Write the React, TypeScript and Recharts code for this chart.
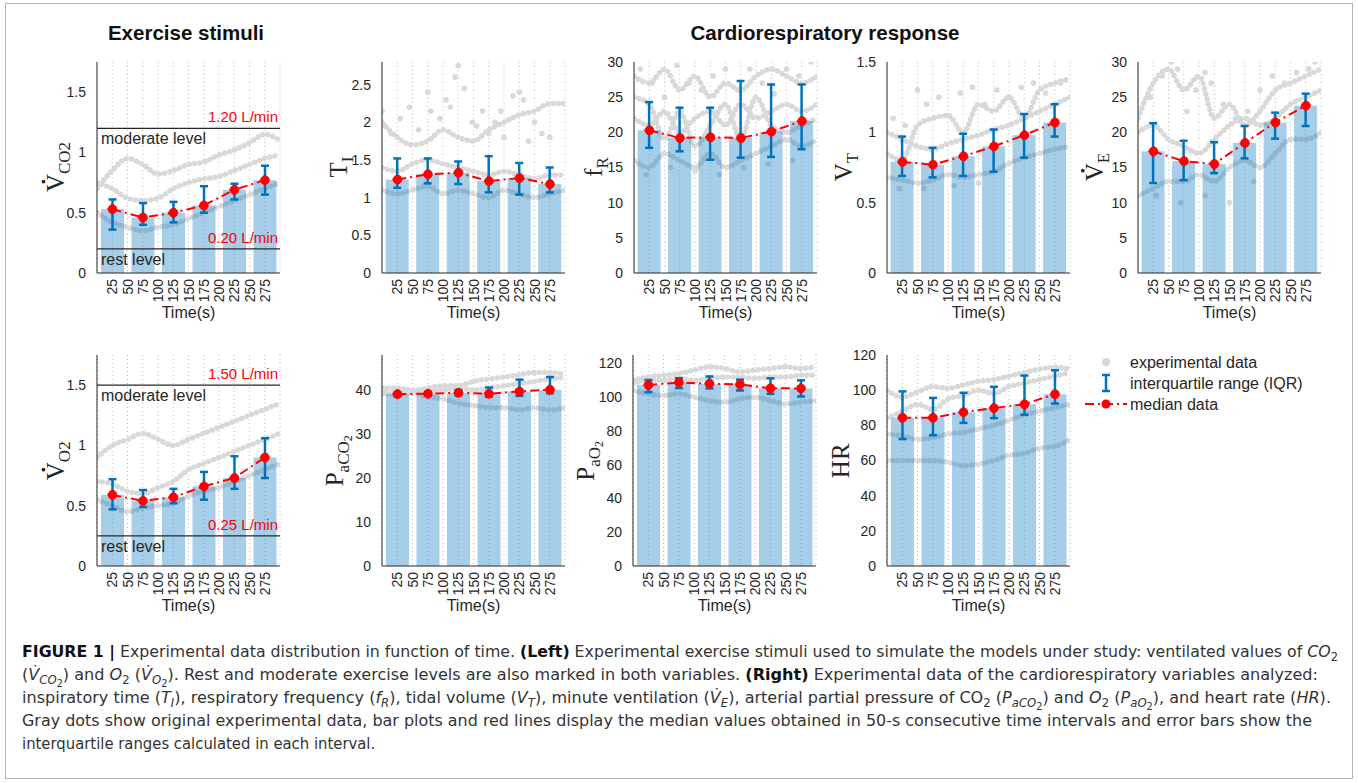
import React from 'react';
import {
  ComposedChart,
  Bar,
  Line,
  Scatter,
  XAxis,
  YAxis,
  CartesianGrid,
  ErrorBar,
  ReferenceLine,
  Label,
} from 'recharts';

// ---------------- data ----------------
const TIMES = [25, 75, 125, 175, 225, 275];
const TRAIL_TIMES = [0, 25, 50, 75, 100, 125, 150, 175, 200, 225, 250, 275, 300];
const X_TICKS = [25, 50, 75, 100, 125, 150, 175, 200, 225, 250, 275];

// V'CO2
const vco2Median = [0.53, 0.46, 0.5, 0.56, 0.69, 0.77];
const vco2Q1 = [0.36, 0.4, 0.42, 0.5, 0.61, 0.65];
const vco2Q3 = [0.61, 0.58, 0.59, 0.72, 0.74, 0.89];
const vco2TrailA = [0.7, 0.85, 0.95, 0.9, 0.82, 0.85, 0.9, 0.92, 0.98, 1.02, 1.08, 1.15, 1.1];
const vco2TrailB = [0.75, 0.7, 0.62, 0.6, 0.62, 0.7, 0.75, 0.78, 0.8, 0.85, 0.9, 0.95, 0.98];
const vco2TrailC = [0.5, 0.42, 0.38, 0.35, 0.38, 0.4, 0.45, 0.5, 0.55, 0.6, 0.65, 0.7, 0.75];

// TI
const tiMedian = [1.24, 1.31, 1.33, 1.22, 1.26, 1.18];
const tiQ1 = [1.13, 1.19, 1.18, 1.07, 1.04, 1.07];
const tiQ3 = [1.52, 1.52, 1.48, 1.55, 1.46, 1.4];
const tiTrailA = [1.4, 1.35, 1.45, 1.5, 1.45, 1.4, 1.35, 1.3, 1.35, 1.3, 1.25, 1.3, 1.3];
const tiTrailB = [1.1, 1.05, 1.1, 1.15, 1.05, 1.1, 1.05, 1.0, 1.1, 1.05, 1.0, 1.05, 1.1];
const tiTrailC = [2.0, 1.8, 1.7, 1.75, 1.9, 1.8, 1.75, 1.9, 2.0, 2.1, 2.15, 2.25, 2.25];
const tiDots = [
  [0, 2.15], [5, 1.95], [15, 1.85], [30, 2.05], [45, 2.2], [60, 1.9], [75, 2.4], [80, 2.15],
  [95, 2.05], [105, 2.3], [112, 2.2], [120, 2.6], [125, 2.75], [135, 2.45], [148, 2.0],
  [155, 1.95], [165, 2.15], [175, 1.85], [185, 2.0], [195, 2.15], [200, 1.8], [215, 2.35],
  [225, 2.4], [232, 2.3], [240, 1.75], [250, 2.0], [262, 1.85], [275, 1.8],
];

// fR
const frMedian = [20.3, 19.2, 19.3, 19.2, 20.1, 21.6];
const frQ1 = [17.8, 17.3, 16.1, 16.4, 16.5, 17.6];
const frQ3 = [24.3, 23.5, 23.5, 27.3, 26.8, 26.8];
const frTrailA = [28, 27, 29, 26, 28, 25, 27, 26, 28, 29, 28, 27, 28];
const frTrailB = [22, 21, 23, 20, 22, 23, 21, 24, 22, 23, 24, 23, 24];
const frTrailC = [16, 15, 17, 16, 15, 17, 15, 16, 17, 18, 19, 18, 19];
const frTrailD = [25, 24, 19, 23, 18, 21, 24, 19, 25, 21, 20, 21, 22];
const frDots = [
  [10, 29], [30, 27], [50, 25], [70, 29.5], [90, 27], [110, 26], [130, 28], [150, 29],
  [170, 26], [190, 29], [210, 27], [230, 25.5], [250, 29], [270, 28], [290, 30],
  [20, 14], [60, 15], [100, 14.5], [140, 14], [180, 15], [220, 15.5], [260, 16],
];

// VT
const vtMedian = [0.79, 0.77, 0.83, 0.9, 0.98, 1.07];
const vtQ1 = [0.69, 0.68, 0.69, 0.72, 0.82, 0.97];
const vtQ3 = [0.97, 0.89, 0.99, 1.02, 1.13, 1.2];
const vtTrailA = [1.0, 0.95, 0.9, 0.88, 0.92, 0.95, 0.98, 1.02, 1.05, 1.1, 1.15, 1.2, 1.25];
const vtTrailB = [0.68, 0.66, 0.64, 0.66, 0.7, 0.68, 0.7, 0.72, 0.78, 0.82, 0.85, 0.88, 0.9];
const vtTrailC = [0.85, 0.8, 1.05, 1.1, 1.12, 1.0, 1.2, 1.15, 1.25, 1.1, 1.3, 1.35, 1.38];
const vtDots = [
  [10, 1.1], [30, 1.05], [50, 1.3], [65, 1.2], [85, 1.25], [100, 1.12], [120, 1.28],
  [140, 1.32], [160, 1.2], [180, 1.3], [200, 1.25], [220, 1.32], [240, 1.35], [260, 1.28],
  [285, 1.35], [20, 0.6], [60, 0.6], [110, 0.62], [150, 0.64],
];

// V'E
const veMedian = [17.3, 15.9, 15.5, 18.5, 21.4, 23.8];
const veQ1 = [12.8, 13.2, 14.2, 16.3, 19.1, 20.9];
const veQ3 = [21.3, 18.8, 18.6, 20.9, 22.8, 25.5];
const veTrailA = [22, 27, 29, 26, 28, 22, 24, 21, 23, 26, 27, 28, 29];
const veTrailB = [20, 21, 19, 18, 17, 19, 21, 22, 21, 22, 24, 25, 26];
const veTrailC = [11, 12, 13, 13, 14, 13, 15, 16, 15, 17, 19, 19, 20];
const veDots = [
  [20, 25], [40, 28], [55, 30], [65, 29], [80, 23], [95, 26], [110, 28.5], [120, 27],
  [140, 24], [160, 22], [180, 23], [200, 26], [220, 28], [240, 27], [260, 28.5], [280, 29],
  [290, 30], [30, 11], [70, 10], [110, 11], [150, 10], [190, 13],
];

// V'O2
const vo2Median = [0.59, 0.54, 0.57, 0.66, 0.73, 0.9];
const vo2Q1 = [0.47, 0.49, 0.52, 0.55, 0.64, 0.73];
const vo2Q3 = [0.72, 0.63, 0.64, 0.78, 0.91, 1.06];
const vo2TrailA = [0.9, 1.0, 1.05, 1.1, 1.05, 1.0, 1.05, 1.1, 1.15, 1.2, 1.25, 1.3, 1.35];
const vo2TrailB = [0.7, 0.68, 0.62, 0.6, 0.65, 0.7, 0.8, 0.85, 0.9, 0.95, 1.0, 1.05, 1.1];
const vo2TrailC = [0.55, 0.5, 0.45, 0.48, 0.5, 0.52, 0.58, 0.62, 0.65, 0.7, 0.75, 0.8, 0.85];

// PaCO2
const paco2Median = [39.1, 39.2, 39.4, 39.2, 39.7, 40.1];
const paco2Q1 = [38.6, 38.8, 38.8, 38.5, 38.7, 39.3];
const paco2Q3 = [39.5, 39.6, 40.0, 40.6, 42.4, 43.0];
const paco2TrailA = [40.5, 40.5, 40, 40.5, 41, 41, 42, 42.5, 43, 43.5, 44, 44, 43.5];
const paco2TrailB = [40, 39, 39.5, 38.5, 38, 37, 36.5, 36, 36, 35.5, 36, 35.5, 36];
const paco2TrailC = [39, 39.5, 39.5, 40, 40, 40.5, 40, 40.5, 41, 41.5, 42, 42.5, 43];

// PaO2
const pao2Median = [107.2, 108.7, 108.0, 107.6, 105.3, 105.2];
const pao2Q1 = [103.0, 105.4, 105.2, 104.0, 102.0, 100.4];
const pao2Q3 = [110.2, 111.3, 112.3, 110.4, 111.2, 110.0];
const pao2TrailA = [110, 112, 113, 114, 116, 118, 117, 115, 116, 117, 118, 117, 118];
const pao2TrailB = [108, 110, 110, 111, 110, 111, 112, 112, 111, 112, 112, 113, 113];
const pao2TrailC = [104, 102, 101, 102, 100, 98, 97, 99, 100, 98, 96, 97, 98];

// HR
const hrMedian = [84.3, 84.3, 87.5, 89.8, 92.0, 97.7];
const hrQ1 = [72.2, 74.4, 81.4, 84.1, 86.0, 92.4];
const hrQ3 = [99.3, 95.6, 98.5, 101.9, 108.3, 111.3];
const hrTrailA = [60, 60, 60, 60, 59, 57, 58, 60, 63, 64, 67, 68, 72];
const hrTrailB = [75, 74, 72, 73, 75, 76, 78, 80, 83, 86, 88, 90, 92];
const hrTrailC = [100, 96, 99, 102, 101, 103, 105, 106, 108, 110, 112, 113, 112];
const hrTrailD = [84, 88, 92, 89, 95, 97, 100, 98, 102, 104, 106, 108, 110];

// ---------------- styles ----------------
const SANS = '"Liberation Sans", Arial, Helvetica, sans-serif';
const NARROW = '"Liberation Sans Narrow", "DejaVu Sans Condensed", "Liberation Sans", Arial, sans-serif';
const SERIF = '"Liberation Serif", "Times New Roman", serif';
const AX = '#262626';
const BLUE = '#0072BD';
const RED = '#ff0000';
const DOTGRAY = '#d9d9d9';

const ROW_TOP = [61.5, 355.3];
const PLOT_H = 211;
const PLOT_W = 183;
const Y_W = 60;
const M_TOP = 8;
const M_RIGHT = 8;
const M_BOTTOM = 8;
const X_H = 45;
const BAR_W = 23;

type RefSpec = { y: number; red: string; black: string };
type LabSpec = { main: string; dot?: boolean; sub?: string; subsub?: string; off: number };

type PanelCfg = {
  id: string;
  row: number;
  axisX: number;
  median: number[];
  q1: number[];
  q3: number[];
  trails: number[][];
  dots?: number[][];
  domain: [number, number];
  ticks: number[];
  refs?: RefSpec[];
  label: LabSpec;
};

const PANELS: PanelCfg[] = [
  {
    id: 'vco2', row: 0, axisX: 97, median: vco2Median, q1: vco2Q1, q3: vco2Q3,
    trails: [vco2TrailA, vco2TrailB, vco2TrailC], domain: [0, 1.75], ticks: [0, 0.5, 1, 1.5],
    refs: [
      { y: 1.2, red: '1.20 L/min', black: 'moderate level' },
      { y: 0.2, red: '0.20 L/min', black: 'rest level' },
    ],
    label: { main: 'V', dot: true, sub: 'CO2', off: 33 },
  },
  {
    id: 'ti', row: 0, axisX: 381.6, median: tiMedian, q1: tiQ1, q3: tiQ3,
    trails: [tiTrailA, tiTrailB, tiTrailC], dots: tiDots, domain: [0, 2.8], ticks: [0, 0.5, 1, 1.5, 2, 2.5],
    label: { main: 'T', sub: 'I', off: 35 },
  },
  {
    id: 'fr', row: 0, axisX: 634, median: frMedian, q1: frQ1, q3: frQ3,
    trails: [frTrailA, frTrailB, frTrailC, frTrailD], dots: frDots, domain: [0, 30], ticks: [0, 5, 10, 15, 20, 25, 30],
    label: { main: 'f', sub: 'R', off: 32 },
  },
  {
    id: 'vt', row: 0, axisX: 886.7, median: vtMedian, q1: vtQ1, q3: vtQ3,
    trails: [vtTrailA, vtTrailB, vtTrailC], dots: vtDots, domain: [0, 1.5], ticks: [0, 0.5, 1, 1.5],
    label: { main: 'V', sub: 'T', off: 35 },
  },
  {
    id: 've', row: 0, axisX: 1138.3, median: veMedian, q1: veQ1, q3: veQ3,
    trails: [veTrailA, veTrailB, veTrailC], dots: veDots, domain: [0, 30], ticks: [0, 5, 10, 15, 20, 25, 30],
    label: { main: 'V', dot: true, sub: 'E', off: 35 },
  },
  {
    id: 'vo2', row: 1, axisX: 97, median: vo2Median, q1: vo2Q1, q3: vo2Q3,
    trails: [vo2TrailA, vo2TrailB, vo2TrailC], domain: [0, 1.75], ticks: [0, 0.5, 1, 1.5],
    refs: [
      { y: 1.5, red: '1.50 L/min', black: 'moderate level' },
      { y: 0.25, red: '0.25 L/min', black: 'rest level' },
    ],
    label: { main: 'V', dot: true, sub: 'O2', off: 33 },
  },
  {
    id: 'paco2', row: 1, axisX: 381.7, median: paco2Median, q1: paco2Q1, q3: paco2Q3,
    trails: [paco2TrailA, paco2TrailB, paco2TrailC], domain: [0, 48], ticks: [0, 10, 20, 30, 40],
    label: { main: 'P', sub: 'aCO', subsub: '2', off: 39 },
  },
  {
    id: 'pao2', row: 1, axisX: 633.3, median: pao2Median, q1: pao2Q1, q3: pao2Q3,
    trails: [pao2TrailA, pao2TrailB, pao2TrailC], domain: [0, 125], ticks: [0, 20, 40, 60, 80, 100, 120],
    label: { main: 'P', sub: 'aO', subsub: '2', off: 39 },
  },
  {
    id: 'hr', row: 1, axisX: 886.7, median: hrMedian, q1: hrQ1, q3: hrQ3,
    trails: [hrTrailA, hrTrailB, hrTrailC, hrTrailD], domain: [0, 120], ticks: [0, 20, 40, 60, 80, 100, 120],
    label: { main: 'HR', off: 38 },
  },
];

// ---------------- components ----------------
const XTick = (props: any) => {
  const { x, y, payload } = props;
  return (
    <text
      x={x}
      y={y}
      transform={`rotate(-90 ${x} ${y})`}
      textAnchor="end"
      dominantBaseline="central"
      fontSize={14}
      fill={AX}
      fontFamily={SANS}
    >
      {payload.value}
    </text>
  );
};

const RefLabel = (props: any) => {
  const vb = props.viewBox || {};
  const { x = 0, y = 0, width = 0 } = vb;
  return (
    <g>
      <text x={x + width - 2} y={y - 6} textAnchor="end" fill={RED} fontSize={15} fontFamily={SANS}>
        {props.red}
      </text>
      <text x={x + 4} y={y + 16} textAnchor="start" fill={AX} fontSize={16} fontFamily={SANS}>
        {props.black}
      </text>
    </g>
  );
};

const BarShape = (p: any) => {
  if (p.height == null || isNaN(p.x)) return null;
  const cx = p.x + p.width / 2;
  return (
    <rect x={cx - BAR_W / 2} y={p.y} width={BAR_W} height={Math.max(0, p.height)} fill={BLUE} fillOpacity={0.35} />
  );
};

const dotShape = (p: any) => <circle cx={p.cx} cy={p.cy} r={2.8} fill={DOTGRAY} />;

function Panel({ cfg }: { cfg: PanelCfg }) {
  const data = TIMES.map((t, i) => ({
    t,
    median: cfg.median[i],
    err: [cfg.median[i] - cfg.q1[i], cfg.q3[i] - cfg.median[i]],
  }));
  const left = cfg.axisX - Y_W;
  const top = ROW_TOP[cfg.row] - M_TOP;
  return (
    <div style={{ position: 'absolute', left, top }}>
      <ComposedChart
        width={Y_W + PLOT_W + M_RIGHT}
        height={M_TOP + PLOT_H + X_H + M_BOTTOM}
        data={data}
        margin={{ top: M_TOP, right: M_RIGHT, bottom: M_BOTTOM, left: 0 }}
      >
        <CartesianGrid horizontal={false} strokeDasharray="1 3" stroke="#bdbdbd" />
        <XAxis
          type="number"
          dataKey="t"
          domain={[0, 300]}
          ticks={X_TICKS}
          interval={0}
          allowDataOverflow
          height={X_H}
          tickLine={false}
          tickSize={0}
          tickMargin={6}
          tick={<XTick />}
          axisLine={{ stroke: AX, strokeWidth: 1 }}
        >
          <Label
            value="Time(s)"
            position="insideBottom"
            offset={0}
            style={{ fontSize: 16, fill: AX, fontFamily: SANS }}
          />
        </XAxis>
        <YAxis
          type="number"
          domain={cfg.domain}
          ticks={cfg.ticks}
          interval={0}
          allowDataOverflow
          width={Y_W}
          tickLine={false}
          tickMargin={5}
          tick={{ fontSize: 14, fill: AX, fontFamily: SANS }}
          axisLine={{ stroke: AX, strokeWidth: 1 }}
        />
        {cfg.trails.map((tr, k) => (
          <Line
            key={'tr' + k}
            data={TRAIL_TIMES.map((t, i) => ({ t, v: tr[i] }))}
            dataKey="v"
            type="monotone"
            stroke={DOTGRAY}
            strokeWidth={5.5}
            strokeLinecap="round"
            strokeDasharray="0.1 5.2"
            dot={false}
            activeDot={false}
            isAnimationActive={false}
            legendType="none"
            {...({ zIndex: 250 } as any)}
          />
        ))}
        {cfg.dots && (
          <Scatter
            data={cfg.dots.map(([t, v]) => ({ t, v }))}
            dataKey="v"
            shape={dotShape}
            isAnimationActive={false}
            legendType="none"
            {...({ zIndex: 250 } as any)}
          />
        )}
        <Bar dataKey="median" barSize={BAR_W} shape={<BarShape />} fill={BLUE} fillOpacity={0.35} isAnimationActive={false}>
          <ErrorBar dataKey="err" width={4} stroke={BLUE} strokeWidth={2.5} direction="y" />
        </Bar>
        {(cfg.refs || []).map((r, k) => (
          <ReferenceLine
            key={'ref' + k}
            y={r.y}
            stroke={AX}
            strokeWidth={1.3}
            label={<RefLabel red={r.red} black={r.black} />}
          />
        ))}
        <Line
          dataKey="median"
          stroke={RED}
          strokeWidth={2}
          strokeDasharray="9 4 2 4"
          dot={{ r: 4.5, fill: RED, stroke: RED, strokeWidth: 1 }}
          activeDot={false}
          isAnimationActive={false}
        />
      </ComposedChart>
    </div>
  );
}

// serif glyph width table (em)
const SERIF_W: Record<string, number> = {
  V: 0.722, T: 0.611, f: 0.333, P: 0.556, H: 0.722, R: 0.667, C: 0.667, O: 0.722,
  a: 0.444, E: 0.611, I: 0.333, '2': 0.5,
};
const strW = (s: string, fs: number) => s.split('').reduce((a, c) => a + (SERIF_W[c] || 0.5) * fs, 0);

function YLab({ cfg }: { cfg: PanelCfg }) {
  const L = cfg.label;
  const fs = 25;
  const sfs = 17;
  const ssfs = 12;
  const total = strW(L.main, fs) + strW(L.sub || '', sfs) + strW(L.subsub || '', ssfs);
  const start = -total / 2;
  const x = cfg.axisX - L.off;
  const y = ROW_TOP[cfg.row] + PLOT_H / 2;
  return (
    <g transform={`translate(${x},${y}) rotate(-90)`}>
      <text x={start} y={0} fontFamily={SERIF} fontSize={fs} fill={AX}>
        {L.main}
        {L.sub && (
          <tspan fontSize={sfs} dy={6}>
            {L.sub}
          </tspan>
        )}
        {L.subsub && (
          <tspan fontSize={ssfs} dy={3}>
            {L.subsub}
          </tspan>
        )}
      </text>
      {L.dot && <circle cx={start + (0.722 * fs) / 2 + 1.5} cy={-fs * 0.66 - 4} r={1.9} fill={AX} />}
    </g>
  );
}

type Seg = [string, string?];
const CAPTION: { segs: Seg[]; w: number }[] = [
  {
    w: 1316,
    segs: [
      ['FIGURE 1 |', 'b'],
      [' Experimental data distribution in function of time. '],
      ['(Left)', 'b'],
      [' Experimental exercise stimuli used to simulate the models under study: ventilated values of '],
      ['CO', 'i'],
      ['2', '1'],
    ],
  },
  {
    w: 1296,
    segs: [
      ['('],
      ['V\u0307', 'i'],
      ['CO', 'i1'],
      ['2', '2'],
      [') and '],
      ['O', 'i'],
      ['2', '1'],
      [' ('],
      ['V\u0307', 'i'],
      ['O', 'i1'],
      ['2', '2'],
      ['). Rest and moderate exercise levels are also marked in both variables. '],
      ['(Right)', 'b'],
      [' Experimental data of the cardiorespiratory variables analyzed:'],
    ],
  },
  {
    w: 1309,
    segs: [
      ['inspiratory time ('],
      ['T', 'i'],
      ['I', 'i1'],
      ['), respiratory frequency ('],
      ['f', 'i'],
      ['R', 'i1'],
      ['), tidal volume ('],
      ['V', 'i'],
      ['T', 'i1'],
      ['), minute ventilation ('],
      ['V\u0307', 'i'],
      ['E', 'i1'],
      ['), arterial partial pressure of CO'],
      ['2', '1'],
      [' ('],
      ['P', 'i'],
      ['aCO', 'i1'],
      ['2', '2'],
      [') and '],
      ['O', 'i'],
      ['2', '1'],
      [' ('],
      ['P', 'i'],
      ['aO', 'i1'],
      ['2', '2'],
      ['), and heart rate ('],
      ['HR', 'i'],
      [').'],
    ],
  },
  {
    w: 1290,
    segs: [
      ['Gray dots show original experimental data, bar plots and red lines display the median values obtained in 50-s consecutive time intervals and error bars show the'],
    ],
  },
  { w: 0, segs: [['interquartile ranges calculated in each interval.']] },
];
const CAP_Y = [657, 680, 703, 726, 749];

function CapLine({ segs, y, w }: { segs: Seg[]; y: number; w: number }) {
  const shift = [0, 4, 7];
  const fsz = [16.5, 12, 10];
  let level = 0;
  const fit = w > 0 ? { textLength: w, lengthAdjust: 'spacingAndGlyphs' } : {};
  return (
    <text
      x={22}
      y={y}
      {...(fit as any)}
      fontFamily={NARROW}
      fontSize={16.5}
      fill="#333"
      style={{ whiteSpace: 'pre', fontStretch: 'condensed' }}
    >
      {segs.map(([t, f = ''], k) => {
        const lv = f.includes('2') ? 2 : f.includes('1') ? 1 : 0;
        const dy = shift[lv] - shift[level];
        level = lv;
        return (
          <tspan
            key={k}
            dy={dy}
            fontSize={fsz[lv]}
            fontWeight={f.includes('b') ? 'bold' : 'normal'}
            fontStyle={f.includes('i') ? 'italic' : 'normal'}
            fill={f.includes('b') ? '#111' : '#333'}
          >
            {t}
          </tspan>
        );
      })}
    </text>
  );
}

export default function App() {
  return (
    <div
      style={{
        position: 'absolute',
        left: 0,
        top: 0,
        width: 1358,
        height: 783,
        background: '#fff',
        fontFamily: SANS,
        overflow: 'hidden',
      }}
    >
      {PANELS.map((p) => (
        <Panel key={p.id} cfg={p} />
      ))}
      <svg
        width={1358}
        height={783}
        style={{ position: 'absolute', left: 0, top: 0, pointerEvents: 'none' }}
      >
        <rect x={5.5} y={3.5} width={1347} height={775} fill="none" stroke="#b5b5b5" strokeWidth={1} />
        <text x={186} y={40} textAnchor="middle" fontFamily={SANS} fontWeight="bold" fontSize={20.5} fill="#111">
          Exercise stimuli
        </text>
        <text x={825} y={40} textAnchor="middle" fontFamily={SANS} fontWeight="bold" fontSize={20.5} fill="#111">
          Cardiorespiratory response
        </text>
        {PANELS.map((p) => (
          <YLab key={'yl' + p.id} cfg={p} />
        ))}
        {/* legend */}
        <g fontFamily={SANS} fontSize={16} fill={AX}>
          <circle cx={1106} cy={362} r={4} fill={DOTGRAY} />
          <line x1={1106} y1={375} x2={1106} y2={391} stroke={BLUE} strokeWidth={2.5} />
          <line x1={1102} y1={375} x2={1110} y2={375} stroke={BLUE} strokeWidth={2.5} />
          <line x1={1102} y1={391} x2={1110} y2={391} stroke={BLUE} strokeWidth={2.5} />
          <line x1={1085} y1={404} x2={1127} y2={404} stroke={RED} strokeWidth={2} strokeDasharray="9 4 2 4" />
          <circle cx={1106} cy={404} r={4.5} fill={RED} />
          <text x={1130} y={367.5}>experimental data</text>
          <text x={1130} y={388.5}>interquartile range (IQR)</text>
          <text x={1130} y={409.5}>median data</text>
        </g>
        {CAPTION.map((c, i) => (
          <CapLine key={'cap' + i} segs={c.segs} y={CAP_Y[i]} w={c.w} />
        ))}
      </svg>
    </div>
  );
}
